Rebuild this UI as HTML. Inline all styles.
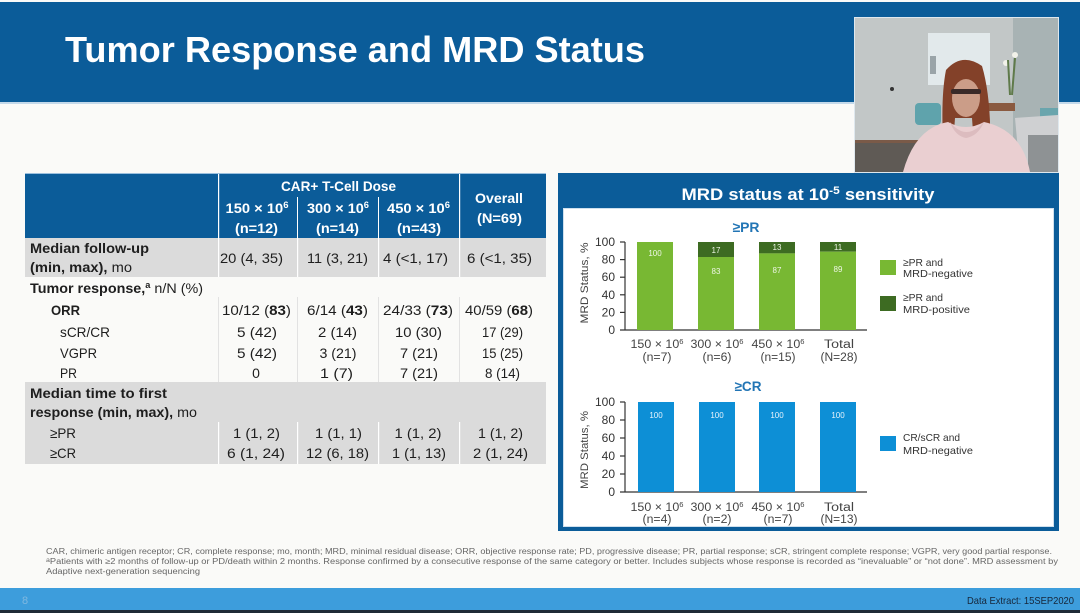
<!DOCTYPE html>
<html><head><meta charset="utf-8"><style>
html,body{margin:0;padding:0;background:#fafaf8;}
svg{display:block;}
text{font-family:"Liberation Sans",sans-serif;}
</style></head><body>
<svg width="1080" height="613" viewBox="0 0 1080 613" xmlns="http://www.w3.org/2000/svg">
<rect x="0" y="0" width="1080" height="613" fill="#fafaf8"/>
<!-- banner -->
<rect x="0" y="2" width="1080" height="100" fill="#0b5c99"/>
<rect x="0" y="102" width="1080" height="2" fill="#c4d9ea"/>
<text x="65" y="62" font-size="36" font-weight="bold" fill="#ffffff" textLength="580" lengthAdjust="spacingAndGlyphs">Tumor Response and MRD Status</text>

<!-- webcam -->
<g>
<rect x="854" y="17" width="205" height="156" fill="#dfe8ee"/>
<rect x="855" y="18" width="203" height="154" fill="#c2c7c7"/>
<rect x="1013" y="18" width="45" height="154" fill="#a8b3b4"/>
<rect x="928" y="33" width="62" height="52" fill="#e2e9eb"/>
<rect x="930" y="56" width="6" height="18" fill="#9aa4a8"/>
<circle cx="892" cy="89" r="2" fill="#333"/>
<rect x="855" y="142" width="90" height="30" fill="#5f5a55"/>
<rect x="855" y="140" width="90" height="3" fill="#7a5a48"/>
<rect x="915" y="103" width="26" height="22" rx="4" fill="#5fa3ac"/>
<rect x="1040" y="108" width="18" height="22" fill="#6aa5ad"/>
<rect x="985" y="103" width="30" height="8" fill="#8a5a40"/>
<circle cx="1015" cy="55" r="3" fill="#f2f2ea"/>
<circle cx="1006" cy="63" r="3" fill="#f2f2ea"/>
<path d="M1008 60 L1010 95 M1015 58 L1012 95" stroke="#5f7a4a" stroke-width="2"/>
<path d="M1015 118 L1058 115 L1058 172 L1020 172 Z" fill="#cfd0d2"/>
<rect x="1028" y="135" width="30" height="37" fill="#8e9294"/>
<path d="M946 70 Q962 52 982 66 Q992 100 990 158 L975 160 L972 118 L955 118 L952 160 L944 156 Q940 100 946 70 Z" fill="#834129"/>
<ellipse cx="966" cy="98" rx="14" ry="19" fill="#cb9d88"/>
<rect x="951" y="89" width="30" height="5" rx="2" fill="#3a2a28"/>
<path d="M903 172 Q915 128 948 122 Q966 132 984 122 Q1022 130 1030 172 Z" fill="#eacfd1"/>
<path d="M950 122 Q966 142 984 122 Q978 136 966 138 Q955 136 950 122 Z" fill="#dcbcbf"/>
</g>

<!-- TABLE -->
<rect x="25" y="173" width="521" height="1" fill="#9cc0de"/>
<rect x="25" y="174" width="521" height="64" fill="#0b5c99"/>
<rect x="218" y="174" width="1.2" height="64" fill="#ffffff"/>
<rect x="459" y="174" width="1.2" height="64" fill="#ffffff"/>
<rect x="297" y="197" width="1" height="41" fill="#ffffff"/>
<rect x="378" y="197" width="1" height="41" fill="#ffffff"/>
<rect x="25" y="238" width="521" height="39" fill="#dbdbdb"/>
<rect x="218" y="238" width="1.2" height="39" fill="#ffffff"/>
<rect x="297" y="238" width="1.2" height="39" fill="#ffffff"/>
<rect x="378" y="238" width="1.2" height="39" fill="#ffffff"/>
<rect x="459" y="238" width="1.2" height="39" fill="#ffffff"/>
<rect x="218" y="297" width="1" height="85" fill="#e2e2e2"/>
<rect x="297" y="297" width="1" height="85" fill="#e2e2e2"/>
<rect x="378" y="297" width="1" height="85" fill="#e2e2e2"/>
<rect x="459" y="297" width="1" height="85" fill="#e2e2e2"/>
<rect x="25" y="382" width="521" height="82" fill="#dbdbdb"/>
<rect x="218" y="422" width="1.2" height="42" fill="#ffffff"/>
<rect x="297" y="422" width="1.2" height="42" fill="#ffffff"/>
<rect x="378" y="422" width="1.2" height="42" fill="#ffffff"/>
<rect x="459" y="422" width="1.2" height="42" fill="#ffffff"/>

<g fill="#ffffff" font-weight="bold" font-size="14" text-anchor="middle">
<text x="338.5" y="191" textLength="115" lengthAdjust="spacingAndGlyphs">CAR+ T-Cell Dose</text>
<text x="257" y="213" textLength="63" lengthAdjust="spacingAndGlyphs">150 × 10<tspan dy="-5" font-size="9">6</tspan></text>
<text x="256.5" y="233" textLength="43" lengthAdjust="spacingAndGlyphs">(n=12)</text>
<text x="338" y="213" textLength="62" lengthAdjust="spacingAndGlyphs">300 × 10<tspan dy="-5" font-size="9">6</tspan></text>
<text x="337.5" y="233" textLength="43" lengthAdjust="spacingAndGlyphs">(n=14)</text>
<text x="418.5" y="213" textLength="63" lengthAdjust="spacingAndGlyphs">450 × 10<tspan dy="-5" font-size="9">6</tspan></text>
<text x="419" y="233" textLength="44" lengthAdjust="spacingAndGlyphs">(n=43)</text>
<text x="499" y="203" textLength="48" lengthAdjust="spacingAndGlyphs">Overall</text>
<text x="499.5" y="223" textLength="45" lengthAdjust="spacingAndGlyphs">(N=69)</text>
</g>

<g fill="#1e1e1e" font-size="14">
<text x="30" y="253" font-weight="bold" textLength="119" lengthAdjust="spacingAndGlyphs">Median follow-up</text>
<text x="30" y="272" textLength="102" lengthAdjust="spacingAndGlyphs"><tspan font-weight="bold">(min, max),</tspan> mo</text>
<text x="30" y="293" textLength="173" lengthAdjust="spacingAndGlyphs"><tspan font-weight="bold">Tumor response,<tspan dy="-5" font-size="9">a</tspan></tspan><tspan dy="5"> n/N (%)</tspan></text>
<text x="51" y="315" font-weight="bold" textLength="29" lengthAdjust="spacingAndGlyphs">ORR</text>
<text x="60" y="337" textLength="50" lengthAdjust="spacingAndGlyphs">sCR/CR</text>
<text x="60" y="358" textLength="37" lengthAdjust="spacingAndGlyphs">VGPR</text>
<text x="60" y="378" textLength="17" lengthAdjust="spacingAndGlyphs">PR</text>
<text x="30" y="398" font-weight="bold" textLength="137" lengthAdjust="spacingAndGlyphs">Median time to first</text>
<text x="30" y="417" textLength="167" lengthAdjust="spacingAndGlyphs"><tspan font-weight="bold">response (min, max),</tspan> mo</text>
<text x="50" y="438" textLength="26" lengthAdjust="spacingAndGlyphs">≥PR</text>
<text x="50" y="458" textLength="26" lengthAdjust="spacingAndGlyphs">≥CR</text>
</g>
<g fill="#1e1e1e" font-size="14" text-anchor="middle">
<text x="251.5" y="263" textLength="63" lengthAdjust="spacingAndGlyphs">20 (4, 35)</text>
<text x="337.5" y="263" textLength="61" lengthAdjust="spacingAndGlyphs">11 (3, 21)</text>
<text x="415.5" y="263" textLength="65" lengthAdjust="spacingAndGlyphs">4 (&lt;1, 17)</text>
<text x="499.5" y="263" textLength="65" lengthAdjust="spacingAndGlyphs">6 (&lt;1, 35)</text>

<text x="256.5" y="315" textLength="69" lengthAdjust="spacingAndGlyphs">10/12 (<tspan font-weight="bold">83</tspan>)</text>
<text x="337.5" y="315" textLength="61" lengthAdjust="spacingAndGlyphs">6/14 (<tspan font-weight="bold">43</tspan>)</text>
<text x="418" y="315" textLength="70" lengthAdjust="spacingAndGlyphs">24/33 (<tspan font-weight="bold">73</tspan>)</text>
<text x="499" y="315" textLength="68" lengthAdjust="spacingAndGlyphs">40/59 (<tspan font-weight="bold">68</tspan>)</text>

<text x="257" y="337" textLength="40" lengthAdjust="spacingAndGlyphs">5 (42)</text>
<text x="337.5" y="337" textLength="39" lengthAdjust="spacingAndGlyphs">2 (14)</text>
<text x="418.5" y="337" textLength="47" lengthAdjust="spacingAndGlyphs">10 (30)</text>
<text x="502.5" y="337" textLength="41" lengthAdjust="spacingAndGlyphs">17 (29)</text>

<text x="257" y="358" textLength="40" lengthAdjust="spacingAndGlyphs">5 (42)</text>
<text x="338" y="358" textLength="37" lengthAdjust="spacingAndGlyphs">3 (21)</text>
<text x="419" y="358" textLength="38" lengthAdjust="spacingAndGlyphs">7 (21)</text>
<text x="502.5" y="358" textLength="41" lengthAdjust="spacingAndGlyphs">15 (25)</text>

<text x="256" y="378">0</text>
<text x="336.5" y="378" textLength="33" lengthAdjust="spacingAndGlyphs">1 (7)</text>
<text x="419" y="378" textLength="38" lengthAdjust="spacingAndGlyphs">7 (21)</text>
<text x="502.5" y="378" textLength="35" lengthAdjust="spacingAndGlyphs">8 (14)</text>

<text x="256.5" y="438" textLength="47" lengthAdjust="spacingAndGlyphs">1 (1, 2)</text>
<text x="338.5" y="438" textLength="47" lengthAdjust="spacingAndGlyphs">1 (1, 1)</text>
<text x="418" y="438" textLength="47" lengthAdjust="spacingAndGlyphs">1 (1, 2)</text>
<text x="500.5" y="438" textLength="45" lengthAdjust="spacingAndGlyphs">1 (1, 2)</text>

<text x="256" y="458" textLength="58" lengthAdjust="spacingAndGlyphs">6 (1, 24)</text>
<text x="337.5" y="458" textLength="63" lengthAdjust="spacingAndGlyphs">12 (6, 18)</text>
<text x="419" y="458" textLength="54" lengthAdjust="spacingAndGlyphs">1 (1, 13)</text>
<text x="500.5" y="458" textLength="55" lengthAdjust="spacingAndGlyphs">2 (1, 24)</text>
</g>

<!-- CHART PANEL -->
<rect x="558" y="173" width="501" height="358" fill="#0b5c99"/>
<rect x="563" y="208" width="491" height="319" fill="#ffffff"/>
<rect x="563.5" y="208.5" width="490" height="318" fill="none" stroke="#cfe0ee" stroke-width="1"/>
<text x="808" y="200" font-size="17" font-weight="bold" fill="#ffffff" text-anchor="middle" textLength="253" lengthAdjust="spacingAndGlyphs">MRD status at 10<tspan dy="-6" font-size="11">-5</tspan><tspan dy="6"> sensitivity</tspan></text>

<!-- chart 1 -->
<text x="746" y="232" font-size="14" font-weight="bold" fill="#2275b5" text-anchor="middle" textLength="27" lengthAdjust="spacingAndGlyphs">≥PR</text>
<text transform="translate(588,283) rotate(-90)" font-size="11" fill="#444" text-anchor="middle" textLength="81" lengthAdjust="spacingAndGlyphs">MRD Status, %</text>
<g font-size="12" fill="#333" text-anchor="end">
<text x="615" y="246">100</text>
<text x="615" y="263.6">80</text>
<text x="615" y="281.2">60</text>
<text x="615" y="298.8">40</text>
<text x="615" y="316.4">20</text>
<text x="615" y="334">0</text>
</g>
<g stroke="#333" stroke-width="1.2">
<line x1="625" y1="242" x2="625" y2="330"/>
<line x1="620" y1="242" x2="625" y2="242"/>
<line x1="620" y1="259.6" x2="625" y2="259.6"/>
<line x1="620" y1="277.2" x2="625" y2="277.2"/>
<line x1="620" y1="294.8" x2="625" y2="294.8"/>
<line x1="620" y1="312.4" x2="625" y2="312.4"/>
<line x1="620" y1="330" x2="867" y2="330"/>
</g>
<rect x="637" y="242" width="36" height="88" fill="#78b833"/>
<rect x="698" y="242" width="36" height="15" fill="#3d6b22"/>
<rect x="698" y="257" width="36" height="73" fill="#78b833"/>
<rect x="759" y="242" width="36" height="11.4" fill="#3d6b22"/>
<rect x="759" y="253.4" width="36" height="76.6" fill="#78b833"/>
<rect x="820" y="242" width="36" height="9.7" fill="#3d6b22"/>
<rect x="820" y="251.7" width="36" height="78.3" fill="#78b833"/>
<g font-size="8" fill="#eef6e6" text-anchor="middle">
<text x="655" y="256">100</text>
<text x="716" y="253">17</text>
<text x="716" y="274">83</text>
<text x="777" y="250">13</text>
<text x="777" y="273">87</text>
<text x="838" y="250">11</text>
<text x="838" y="272">89</text>
</g>
<g font-size="11.5" fill="#444" text-anchor="middle">
<text x="657" y="348" textLength="53" lengthAdjust="spacingAndGlyphs">150 × 10<tspan dy="-4" font-size="7">6</tspan></text>
<text x="657" y="361" textLength="29" lengthAdjust="spacingAndGlyphs">(n=7)</text>
<text x="717" y="348" textLength="53" lengthAdjust="spacingAndGlyphs">300 × 10<tspan dy="-4" font-size="7">6</tspan></text>
<text x="717" y="361" textLength="29" lengthAdjust="spacingAndGlyphs">(n=6)</text>
<text x="778" y="348" textLength="53" lengthAdjust="spacingAndGlyphs">450 × 10<tspan dy="-4" font-size="7">6</tspan></text>
<text x="778" y="361" textLength="35" lengthAdjust="spacingAndGlyphs">(n=15)</text>
<text x="839" y="348" textLength="30" lengthAdjust="spacingAndGlyphs">Total</text>
<text x="839" y="361" textLength="37" lengthAdjust="spacingAndGlyphs">(N=28)</text>
</g>
<rect x="880" y="260" width="16" height="15" fill="#78b833"/>
<rect x="880" y="296" width="16" height="15" fill="#3d6b22"/>
<g font-size="10.5" fill="#333">
<text x="903" y="266" textLength="40" lengthAdjust="spacingAndGlyphs">≥PR and</text>
<text x="903" y="277" textLength="70" lengthAdjust="spacingAndGlyphs">MRD-negative</text>
<text x="903" y="301" textLength="40" lengthAdjust="spacingAndGlyphs">≥PR and</text>
<text x="903" y="313" textLength="67" lengthAdjust="spacingAndGlyphs">MRD-positive</text>
</g>

<!-- chart 2 -->
<text x="748" y="391" font-size="14" font-weight="bold" fill="#2275b5" text-anchor="middle" textLength="27" lengthAdjust="spacingAndGlyphs">≥CR</text>
<text transform="translate(588,450) rotate(-90)" font-size="11" fill="#444" text-anchor="middle" textLength="78" lengthAdjust="spacingAndGlyphs">MRD Status, %</text>
<g font-size="12" fill="#333" text-anchor="end">
<text x="615" y="406">100</text>
<text x="615" y="424">80</text>
<text x="615" y="442">60</text>
<text x="615" y="460">40</text>
<text x="615" y="478">20</text>
<text x="615" y="496">0</text>
</g>
<g stroke="#333" stroke-width="1.2">
<line x1="625" y1="402" x2="625" y2="492"/>
<line x1="620" y1="402" x2="625" y2="402"/>
<line x1="620" y1="420" x2="625" y2="420"/>
<line x1="620" y1="438" x2="625" y2="438"/>
<line x1="620" y1="456" x2="625" y2="456"/>
<line x1="620" y1="474" x2="625" y2="474"/>
<line x1="620" y1="492" x2="867" y2="492"/>
</g>
<rect x="638" y="402" width="36" height="90" fill="#0d8fd6"/>
<rect x="699" y="402" width="36" height="90" fill="#0d8fd6"/>
<rect x="759" y="402" width="36" height="90" fill="#0d8fd6"/>
<rect x="820" y="402" width="36" height="90" fill="#0d8fd6"/>
<g font-size="8" fill="#e6f3fb" text-anchor="middle">
<text x="656" y="418">100</text>
<text x="717" y="418">100</text>
<text x="777" y="418">100</text>
<text x="838" y="418">100</text>
</g>
<g font-size="11.5" fill="#444" text-anchor="middle">
<text x="657" y="511" textLength="53" lengthAdjust="spacingAndGlyphs">150 × 10<tspan dy="-4" font-size="7">6</tspan></text>
<text x="657" y="523" textLength="29" lengthAdjust="spacingAndGlyphs">(n=4)</text>
<text x="717" y="511" textLength="53" lengthAdjust="spacingAndGlyphs">300 × 10<tspan dy="-4" font-size="7">6</tspan></text>
<text x="717" y="523" textLength="29" lengthAdjust="spacingAndGlyphs">(n=2)</text>
<text x="778" y="511" textLength="53" lengthAdjust="spacingAndGlyphs">450 × 10<tspan dy="-4" font-size="7">6</tspan></text>
<text x="778" y="523" textLength="29" lengthAdjust="spacingAndGlyphs">(n=7)</text>
<text x="839" y="511" textLength="30" lengthAdjust="spacingAndGlyphs">Total</text>
<text x="839" y="523" textLength="37" lengthAdjust="spacingAndGlyphs">(N=13)</text>
</g>
<rect x="880" y="436" width="16" height="15" fill="#0d8fd6"/>
<g font-size="10.5" fill="#333">
<text x="903" y="441" textLength="57" lengthAdjust="spacingAndGlyphs">CR/sCR and</text>
<text x="903" y="454" textLength="70" lengthAdjust="spacingAndGlyphs">MRD-negative</text>
</g>

<!-- footnotes -->
<g font-size="8" fill="#666">
<text x="46" y="554" textLength="1006" lengthAdjust="spacingAndGlyphs">CAR, chimeric antigen receptor; CR, complete response; mo, month; MRD, minimal residual disease; ORR, objective response rate; PD, progressive disease; PR, partial response; sCR, stringent complete response; VGPR, very good partial response.</text>
<text x="46" y="564" textLength="1012" lengthAdjust="spacingAndGlyphs"><tspan font-size="6" dy="-2">a</tspan><tspan dy="2">Patients with ≥2 months of follow-up or PD/death within 2 months. Response confirmed by a consecutive response of the same category or better. Includes subjects whose response is recorded as “inevaluable” or “not done”. MRD assessment by</tspan></text>
<text x="46" y="574" textLength="154" lengthAdjust="spacingAndGlyphs">Adaptive next-generation sequencing</text>
</g>

<!-- bottom bar -->
<rect x="0" y="588" width="1080" height="22" fill="#3d9ddc"/>
<rect x="0" y="610" width="1080" height="3" fill="#1f2a36"/>
<text x="22" y="604" font-size="11" fill="#7fb8e0">8</text>
<text x="1074" y="604" font-size="10.5" fill="#16263a" text-anchor="end" textLength="107" lengthAdjust="spacingAndGlyphs">Data Extract: 15SEP2020</text>
</svg>
</body></html>
